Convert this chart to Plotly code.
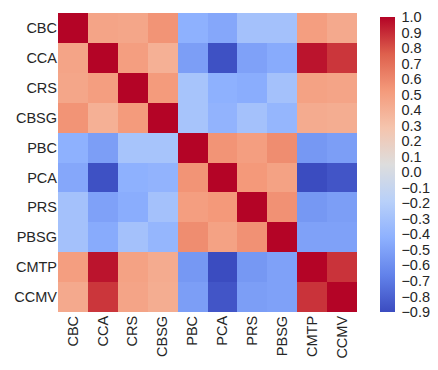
import plotly.graph_objects as go

labels = ["CBC", "CCA", "CRS", "CBSG", "PBC", "PCA", "PRS", "PBSG", "CMTP", "CCMV"]

corr = [
    [1.00, 0.47, 0.46, 0.55, -0.42, -0.47, -0.30, -0.30, 0.50, 0.44],
    [0.47, 1.00, 0.50, 0.40, -0.52, -0.88, -0.50, -0.45, 0.96, 0.87],
    [0.46, 0.50, 1.00, 0.52, -0.28, -0.42, -0.44, -0.30, 0.48, 0.47],
    [0.55, 0.40, 0.52, 1.00, -0.28, -0.40, -0.30, -0.38, 0.43, 0.42],
    [-0.42, -0.52, -0.28, -0.28, 1.00, 0.55, 0.50, 0.58, -0.55, -0.52],
    [-0.47, -0.88, -0.42, -0.40, 0.55, 1.00, 0.53, 0.48, -0.90, -0.86],
    [-0.30, -0.50, -0.44, -0.30, 0.50, 0.53, 1.00, 0.56, -0.55, -0.52],
    [-0.30, -0.45, -0.30, -0.38, 0.58, 0.48, 0.56, 1.00, -0.50, -0.50],
    [0.50, 0.96, 0.48, 0.43, -0.55, -0.90, -0.55, -0.50, 1.00, 0.88],
    [0.44, 0.87, 0.47, 0.42, -0.52, -0.86, -0.52, -0.50, 0.88, 1.00],
]

cbar_ticks = [round(-0.9 + 0.1 * i, 1) for i in range(20)]

# matplotlib coolwarm, sampled
coolwarm = [
    [0.0, "rgb(59,76,192)"],
    [0.125, "rgb(98,130,234)"],
    [0.25, "rgb(141,176,254)"],
    [0.375, "rgb(184,208,249)"],
    [0.5, "rgb(221,221,221)"],
    [0.625, "rgb(245,196,173)"],
    [0.75, "rgb(244,154,123)"],
    [0.875, "rgb(222,96,77)"],
    [1.0, "rgb(180,4,38)"],
]

fig = go.Figure(go.Heatmap(
    z=corr, x=labels, y=labels,
    colorscale=coolwarm, zmin=-0.9, zmax=1.0001,
    colorbar=dict(
        tickvals=cbar_ticks, ticktext=[f"{v:.1f}".replace("-", "\u2212") for v in cbar_ticks],
        thickness=15, len=0.985, lenmode="fraction", y=0, yanchor="bottom",
        x=1.077, xanchor="left", outlinewidth=0,
        ticks="outside", ticklen=4, tickcolor="rgba(0,0,0,0)",
        ticklabeloverflow="allow",
        tickfont=dict(size=14.5, color="#262626"), xpad=0, ypad=0,
    ),
))

# page body has an 8px default margin, so the figure is 8px smaller and shifted
fig.update_layout(
    width=430, height=362,
    margin=dict(l=50, r=81, t=5, b=58, autoexpand=False),
    paper_bgcolor="white", plot_bgcolor="white",
    font=dict(family="Arial", size=14.5, color="#262626"),
    xaxis=dict(tickangle=-90, showgrid=False, zeroline=False, ticks="", ticklen=0,
               automargin=False),
    yaxis=dict(autorange="reversed", showgrid=False, zeroline=False, ticks="", ticklen=0,
               automargin=False),
)

fig.write_html("out.html")
